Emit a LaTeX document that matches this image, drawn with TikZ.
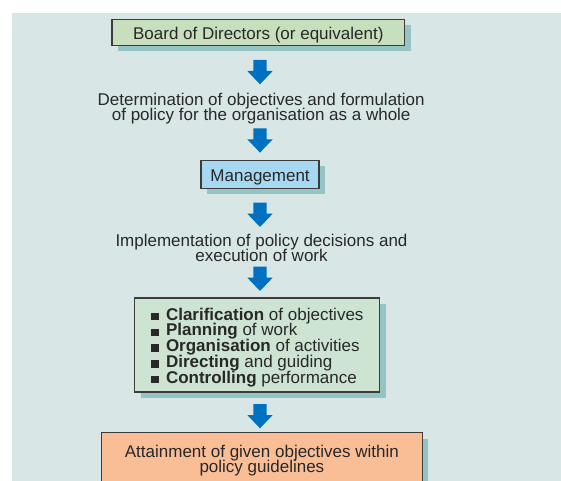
\documentclass[tikz,border=0pt]{standalone}
\usepackage{fontspec}
\setmainfont{Liberation Sans}
\usepackage{tikz}
\usetikzlibrary{calc,shadows}
\definecolor{panelbg}{RGB}{216,231,230}
\definecolor{shadowteal}{RGB}{150,195,196}
\definecolor{boardgreen}{RGB}{199,223,188}
\definecolor{mgmtblue}{RGB}{166,216,242}
\definecolor{taskgreen}{RGB}{205,228,211}
\definecolor{goalorange}{RGB}{250,190,150}
\definecolor{arrowblue}{RGB}{0,112,192}
\definecolor{textgrey}{RGB}{40,40,40}
\definecolor{edgegrey}{RGB}{60,60,60}
\newcommand{\sqbul}{\rule{0.5em}{0.43em}\hspace{0.4em}}
\newcommand{\tightlines}{\lineskiplimit=-20pt\relax}

\begin{document}
\begin{tikzpicture}[x=0.75pt,y=-0.75pt,
    every node/.style={text=textgrey,font=\fontsize{12.75}{11.25}\selectfont\tightlines},
    stagebox/.style={draw=edgegrey,line width=1.1pt,inner sep=0pt,
        drop shadow={shadow xshift=4.5pt,shadow yshift=-4.5pt,fill=shadowteal,opacity=1}},
    oneline/.style={text height=13pt,text depth=2.5pt},
    stagetext/.style={align=center,inner sep=0pt}]
              \useasboundingbox (0,0) rectangle (561,481);
              \clip (0,0) rectangle (561,481);
              \fill[panelbg] (11.8,13.3) rectangle (561,481);
              \node[stagebox,oneline,fill=boardgreen,minimum width=219.4pt,minimum height=19.5pt](board)at(258.3,32.5){Board of Directors (or equivalent)};
              \node[stagetext](policy)at(261.2,108.3){Determination of objectives and formulation\\of policy for the organisation as a whole};
              \node[stagebox,oneline,fill=mgmtblue,minimum width=88.4pt,minimum height=21pt](mgmt)at(260.1,174.5){Management};
              \node[stagetext](execution)at(261.5,247.7){Implementation of policy decisions and\\execution of work};
              \node[stagebox,fill=taskgreen,minimum width=183.6pt,minimum height=70.2pt,align=left,
                    font=\fontsize{12.75}{11.85}\selectfont\tightlines](tasks)at(257.1,345){%
                \rule{0pt}{12.8pt}\sqbul\textbf{Clarification} of objectives\\
                \sqbul\textbf{Planning} of work\\
                \sqbul\textbf{Organisation} of activities\\
                \sqbul\textbf{Directing} and guiding\\
                \sqbul\textbf{Controlling} performance};
              \node[stagebox,fill=goalorange,minimum width=240.8pt,minimum height=42pt,align=center](goal)at(261.9,460.5){Attainment of given objectives within\\policy guidelines};
              % block arrows between the stages
              \foreach \ay in {60,128.3,202.7,266.7,404}
                \fill[shift={(260,\ay)},arrowblue] (-6.7,0) -- (6.7,0) -- (6.7,11) -- (12.7,11) -- (0,24.3) -- (-12.7,11) -- (-6.7,11) -- cycle;
            \end{tikzpicture}
\end{document}
